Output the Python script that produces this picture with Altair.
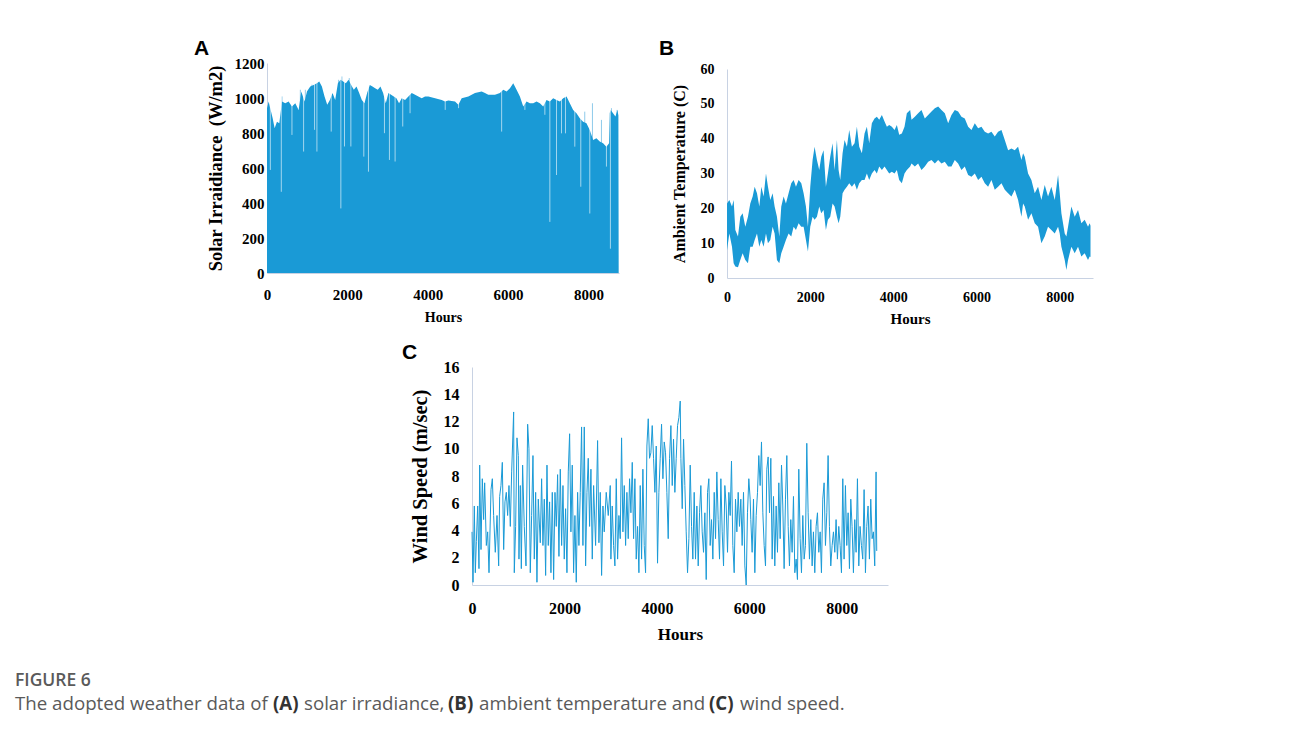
import altair as alt
import pandas as pd

# ---------------- data ----------------
hour_ticks = [0, 2000, 4000, 6000, 8000]
solar_ticks = [0, 200, 400, 600, 800, 1000, 1200]
temp_ticks = [0, 10, 20, 30, 40, 50, 60]
wind_ticks = [0, 2, 4, 6, 8, 10, 12, 14, 16]

# (A) solar irradiance: envelope of the daily peaks
solar_env_hours = [0, 41, 91, 141, 190, 248, 306, 373, 455, 538, 621, 704, 787, 853, 936, 994,
                   1076, 1159, 1242, 1300, 1366, 1432, 1499, 1565, 1631, 1697, 1764, 1830, 1896,
                   1962, 2029, 2095, 2161, 2227, 2294, 2360, 2426, 2492, 2559, 2625, 2691, 2757,
                   2823, 2890, 2956, 3022, 3088, 3155, 3221, 3287, 3353, 3436, 3519, 3602, 3685,
                   3767, 3850, 3933, 4017, 4183, 4348, 4431, 4514, 4679, 4762, 4845, 5011, 5176,
                   5342, 5425, 5507, 5673, 5797, 5880, 5963, 6046, 6128, 6211, 6294, 6377, 6460,
                   6543, 6625, 6708, 6791, 6874, 6956, 7039, 7122, 7205, 7288, 7371, 7454, 7536,
                   7619, 7702, 7785, 7867, 7950, 8033, 8116, 8198, 8281, 8364, 8447, 8513, 8530,
                   8554, 8612, 8671, 8720, 8745, 8752]
solar_env_values = [942, 980, 932, 884, 827, 865, 856, 980, 970, 980, 951, 970, 932, 1037, 980, 1037,
                    1066, 1075, 1085, 1094, 1066, 1009, 961, 989, 1028, 989, 1085, 1104, 1094,
                    1085, 1104, 1075, 1047, 1066, 1028, 989, 970, 1028, 1075, 1066, 1056, 1047,
                    1066, 1028, 970, 1028, 1018, 1009, 999, 970, 999, 989, 1009, 1028, 1018,
                    1009, 999, 1009, 1009, 999, 989, 980, 986, 980, 961, 999, 1009, 1028,
                    1037, 1028, 1018, 1018, 1028, 1047, 1037, 1056, 1085, 1047, 1009, 951, 980,
                    970, 970, 980, 970, 951, 989, 980, 999, 989, 980, 999, 1009, 970,
                    932, 913, 884, 865, 856, 817, 760, 770, 751, 741, 722, 741, 915,
                    932, 913, 894, 932, 900, 0]
# days with a much lower peak (light slivers cutting into the fill)
solar_dip_hours = [83, 356, 621, 911, 1184, 1242, 1598, 1838, 1929, 2087, 2409, 2525, 2923, 3047,
                   3188, 3378, 3560, 4435, 4767, 5839, 6418, 6915, 7039, 7205, 7329, 7428, 7660,
                   7809, 8033, 8447, 8546]
solar_dip_values = [589, 464, 789, 694, 818, 694, 808, 369, 723, 723, 665, 579, 799, 646,
                    637, 837, 913, 932, 942, 808, 932, 904, 292, 560, 798, 798, 722,
                    493, 340, 608, 139]
# single days peaking above the envelope (light slivers above the fill)
solar_peak_hours = [373, 830, 954, 1118, 1781, 1864, 2047, 7908, 8099, 8323, 8571, 8712]
solar_peak_values = [1009, 1047, 1047, 1076, 1104, 1123, 1114, 922, 970, 875, 942, 932]

# (B) ambient temperature: daily max / min band
temp_hours = [0, 56, 120, 160, 200, 264, 320, 376, 440, 504, 560, 617, 665, 721, 777, 825, 881,
              937, 985, 1041, 1097, 1145, 1201, 1257, 1305, 1361, 1417, 1481, 1545, 1602, 1658,
              1722, 1786, 1842, 1898, 1946, 2002, 2058, 2106, 2162, 2218, 2266, 2322, 2378, 2426,
              2482, 2538, 2587, 2643, 2683, 2723, 2779, 2827, 2883, 2939, 3003, 3067, 3123, 3179,
              3243, 3307, 3363, 3419, 3483, 3547, 3603, 3660, 3724, 3788, 3844, 3900, 3964, 4028,
              4084, 4140, 4204, 4268, 4324, 4404, 4436, 4516, 4596, 4676, 4756, 4837, 4917, 4997,
              5077, 5157, 5237, 5317, 5397, 5477, 5557, 5637, 5717, 5798, 5878, 5958, 6038, 6118,
              6198, 6278, 6358, 6438, 6518, 6599, 6679, 6759, 6839, 6919, 6999, 7079, 7119, 7159,
              7239, 7319, 7399, 7479, 7559, 7639, 7719, 7799, 7880, 7960, 8000, 8040, 8120, 8160,
              8200, 8280, 8360, 8440, 8520, 8600, 8680, 8720, 8740]
temp_max = [21.4, 22.4, 20.5, 22.4, 13.8, 11.9, 17.6, 18.6, 14.7, 17.6, 21.4, 23.4, 26.2, 24.3,
            20.5, 26.2, 23.4, 30.0, 26.2, 22.4, 24.3, 20.5, 17.6, 11.9, 20.5, 23.4, 21.4, 24.3,
            27.2, 28.1, 26.2, 28.1, 27.2, 24.3, 20.5, 14.7, 26.2, 33.9, 37.7, 33.9, 31.0, 34.8,
            36.7, 26.2, 30.0, 34.8, 38.7, 31.0, 39.6, 31.0, 28.1, 35.8, 39.6, 37.7, 42.5, 37.7,
            38.7, 43.4, 37.7, 35.8, 41.5, 43.4, 38.7, 44.4, 45.8, 46.3, 45.4, 46.8, 44.9, 43.4,
            43.9, 43.4, 42.5, 43.9, 41.1, 41.5, 43.4, 47.3, 48.2, 45.4, 46.3, 47.3, 48.2, 45.8,
            46.8, 47.8, 48.7, 49.2, 48.2, 47.3, 44.4, 46.8, 48.2, 47.8, 46.3, 45.8, 43.4, 42.5,
            44.4, 43.0, 43.4, 42.0, 41.5, 42.0, 40.6, 42.0, 42.5, 39.6, 36.7, 37.2, 36.7, 37.7,
            33.9, 35.8, 34.8, 30.0, 28.1, 24.3, 26.2, 22.4, 26.7, 23.4, 26.2, 22.4, 29.6, 24.3,
            18.6, 12.8, 11.9, 14.7, 20.5, 17.6, 19.5, 15.7, 16.7, 14.7, 15.7, 15.0]
temp_min = [8.0, 12.8, 9.0, 4.2, 3.3, 3.1, 5.2, 7.1, 5.2, 4.2, 9.0, 9.0, 10.9, 12.8, 9.0, 10.9,
            9.0, 12.8, 10.0, 10.9, 14.7, 12.8, 5.2, 4.2, 7.1, 9.0, 10.9, 12.8, 11.9, 14.7, 13.8,
            15.7, 14.7, 14.7, 10.9, 7.6, 14.7, 17.6, 16.7, 17.6, 20.5, 18.6, 19.5, 13.8, 16.7,
            17.6, 21.4, 20.5, 17.6, 15.7, 17.6, 24.3, 25.3, 26.2, 27.2, 26.2, 27.2, 25.3, 27.2,
            28.1, 28.1, 30.0, 28.1, 30.0, 31.0, 30.0, 32.0, 31.0, 32.0, 31.0, 30.0, 30.5, 30.0,
            31.0, 28.1, 27.2, 30.0, 31.0, 32.0, 32.9, 32.0, 32.9, 31.0, 32.0, 33.4, 33.9, 32.9,
            33.9, 32.9, 33.4, 32.0, 32.0, 33.9, 32.9, 31.0, 32.0, 29.6, 29.1, 30.0, 28.1, 29.1,
            27.2, 26.2, 28.1, 25.3, 26.2, 27.2, 25.3, 24.3, 23.4, 25.3, 22.4, 17.6, 21.4, 20.5,
            16.7, 18.6, 15.7, 14.7, 10.0, 11.9, 14.7, 13.8, 12.8, 14.7, 12.8, 9.0, 5.2, 2.3,
            5.2, 9.0, 7.1, 9.0, 6.2, 7.1, 5.2, 6.2, 6.0]

# (C) wind speed
wind_hours = [0, 22, 50, 72, 94, 123, 151, 166, 195, 223, 252, 274, 310, 339, 368, 411, 440, 468,
              504, 541, 577, 598, 627, 656, 685, 713, 742, 771, 800, 829, 858, 901, 915, 944, 973,
              1002, 1016, 1045, 1067, 1095, 1131, 1168, 1204, 1232, 1261, 1290, 1319, 1348, 1377,
              1405, 1434, 1477, 1506, 1535, 1564, 1593, 1622, 1650, 1679, 1708, 1737, 1766, 1795,
              1823, 1852, 1881, 1910, 1939, 1968, 1996, 2025, 2054, 2083, 2112, 2140, 2169, 2198,
              2227, 2256, 2285, 2313, 2342, 2371, 2400, 2429, 2458, 2487, 2515, 2544, 2573, 2602,
              2631, 2674, 2717, 2746, 2775, 2804, 2833, 2861, 2904, 2948, 2991,
              3005, 3034, 3063, 3092, 3121, 3150, 3178, 3207, 3236, 3265, 3294, 3323, 3351, 3380,
              3409, 3438, 3467, 3496, 3524, 3553, 3582, 3611, 3640, 3669, 3697, 3726, 3755, 3784,
              3813, 3841, 3870, 3899, 3928, 3957, 3986, 4014, 4043, 4072, 4101, 4130, 4159, 4187,
              4216, 4245, 4274, 4303, 4332, 4360, 4389, 4418, 4447, 4476, 4505, 4519, 4548, 4577,
              4605, 4634, 4663, 4692, 4721, 4750, 4778, 4807, 4836, 4865, 4894, 4923, 4951, 4980,
              5009, 5038, 5067, 5096, 5124, 5153, 5182, 5211, 5240, 5269, 5297, 5326, 5355, 5384,
              5413, 5442, 5470, 5499, 5528, 5557, 5586, 5614, 5643, 5672, 5701, 5730, 5759, 5787,
              5816, 5845, 5874, 5903, 5932, 5960, 5989, 6018,
              6032, 6061, 6090, 6119, 6148, 6177, 6205, 6234, 6263, 6292, 6321, 6350, 6378, 6407,
              6436, 6465, 6494, 6523, 6551, 6580, 6609, 6638, 6667, 6696, 6724, 6753, 6782, 6811,
              6840, 6868, 6897, 6926, 6955, 6984, 7013, 7041, 7070, 7099, 7128, 7157, 7186, 7214,
              7243, 7272, 7301, 7330, 7359, 7387, 7416, 7445, 7474, 7503, 7532, 7560, 7589, 7618,
              7647, 7676, 7704, 7733, 7762, 7791, 7820, 7849, 7877, 7906, 7935, 7964, 7993, 8022,
              8050, 8079, 8108, 8137, 8166, 8195, 8223, 8252, 8281, 8310, 8339, 8368, 8396, 8425,
              8454, 8483, 8512, 8540, 8569, 8598, 8627, 8656, 8684, 8713, 8742, 8756]
wind_values = [3.9, 0.2, 5.8, 0.9, 3.2, 5.8, 1.2, 8.8, 2.6, 7.8, 4.8, 7.5, 2.9, 3.9, 0.9, 7.0, 7.8,
               5.1, 2.4, 5.1, 1.4, 6.5, 7.3, 9.0, 2.6, 6.1, 6.8, 5.1, 7.3, 4.3, 8.3, 12.7, 0.9, 4.3,
               10.8, 9.5, 1.9, 7.3, 1.2, 8.8, 4.3, 1.4, 11.8, 10.0, 0.9, 5.1, 9.5, 1.9, 6.8, 0.2,
               6.3, 3.1, 7.8, 2.9, 6.3, 0.7, 8.8, 2.9, 6.1, 0.9, 6.8, 0.4, 6.8, 4.3, 8.1, 2.1, 8.5,
               2.9, 7.3, 1.9, 5.6, 0.9, 8.3, 11.1, 3.9, 8.8, 0.9, 5.1, 0.2, 6.8, 2.9, 6.8, 11.6,
               2.9, 11.6, 1.4, 6.8, 9.3, 4.3, 8.5, 1.9, 7.3, 2.9, 10.6, 3.1, 6.8, 0.7, 5.8, 3.9,
               6.8, 5.1, 7.3,
               1.9, 5.8, 2.9, 1.4, 7.8, 1.9, 5.1, 3.4, 10.8, 3.9, 7.3, 2.9, 6.8, 3.4, 7.8, 5.3,
               9.0, 3.4, 7.8, 1.9, 4.3, 0.9, 7.3, 1.9, 8.5, 2.9, 0.9, 10.2, 12.2, 9.3, 9.7, 11.7,
               9.3, 6.8, 10.2, 1.6, 6.8, 9.3, 11.8, 7.8, 10.5, 9.7, 6.8, 3.4, 9.3, 11.7, 7.3, 10.7,
               6.8, 9.3, 11.7, 12.3, 13.5, 9.3, 5.6, 10.7, 7.3, 3.9, 0.9, 3.4, 8.8, 4.3, 1.9, 6.8,
               1.9, 5.8, 1.4, 5.3, 7.3, 3.9, 2.4, 5.3, 0.4, 6.8, 7.8, 2.9, 4.8, 1.9, 6.8, 3.4, 8.3,
               4.8, 1.9, 7.8, 3.9, 1.4, 7.3, 5.8, 2.4, 6.8, 5.1, 9.1, 2.9, 0.9, 6.3, 3.9, 6.8, 4.3,
               6.3, 2.9, 6.8, 1.4, 0.0, 5.3, 7.8, 6.3,
               4.8, 2.4, 6.3, 0.9, 5.1, 6.8, 9.5, 7.3, 10.5, 5.3, 2.9, 1.4, 8.5, 9.4, 5.3, 9.3,
               1.9, 6.5, 1.4, 5.8, 2.4, 7.5, 3.4, 8.8, 5.8, 1.2, 6.3, 9.5, 4.3, 1.4, 4.8, 2.4, 6.5,
               0.9, 1.9, 0.4, 8.5, 3.4, 0.9, 5.1, 1.9, 2.9, 10.4, 5.3, 1.9, 4.8, 1.4, 3.9, 0.9,
               4.3, 5.3, 2.4, 3.9, 0.9, 6.3, 7.5, 2.9, 5.3, 9.5, 4.3, 1.4, 2.9, 3.9, 2.4, 4.8, 1.9,
               4.3, 2.9, 0.9, 7.8, 1.9, 7.3, 2.9, 5.3, 1.2, 6.3, 4.3, 0.9, 4.8, 2.4, 7.8, 1.4, 4.3,
               2.9, 1.9, 7.0, 0.9, 4.3, 5.8, 1.9, 6.3, 3.4, 3.9, 1.4, 8.3, 2.5]

caption_title = "FIGURE 6"
caption_parts = ["The adopted weather data of", "(A)", "solar irradiance,", "(B)",
                 "ambient temperature and", "(C)", "wind speed."]
caption_bold = [False, True, False, True, False, True, False]

# ---------------- styling ----------------
BLUE = "#1a9ad6"
LIGHT = "#8ecaea"
AXIS_COLOR = "#c8d2e3"
SERIF = "Liberation Serif"
SANS = "Liberation Sans"
CAPTION_FONT = "Open Sans"


def x_axis(label_size, title_size, label_pad, title_pad):
    return alt.Axis(values=hour_ticks, format="d", title="Hours",
                    labelFont=SERIF, labelFontSize=label_size, labelFontWeight="bold",
                    labelColor="black", titleFont=SERIF, titleFontSize=title_size,
                    titleFontWeight="bold", titleColor="black", ticks=False, tickSize=0,
                    grid=False, domainColor=AXIS_COLOR, domainWidth=1,
                    labelPadding=label_pad, titlePadding=title_pad, labelFlush=False,
                    labelOverlap=False)


def y_axis(values, title, label_size, title_size, label_pad, title_pad):
    return alt.Axis(values=values, format="d", title=title,
                    labelFont=SERIF, labelFontSize=label_size, labelFontWeight="bold",
                    labelColor="black", titleFont=SERIF, titleFontSize=title_size,
                    titleFontWeight="bold", titleColor="black", ticks=False, tickSize=0,
                    grid=False, domainColor=AXIS_COLOR, domainWidth=1,
                    labelPadding=label_pad, titlePadding=title_pad, labelOverlap=False)


def panel_title(letter, dx, offset, dy):
    return alt.TitleParams(letter, anchor="start", frame="group", dx=dx, dy=dy, offset=offset,
                           font=SANS, fontSize=21, fontWeight="bold", color="black")


def spacer(w):
    return alt.Chart(pd.DataFrame({"v": [0]})).mark_rect(opacity=0).encode(
        x=alt.value(0), x2=alt.value(w), y=alt.value(0), y2=alt.value(1)
    ).properties(width=w, height=1)


# ---------------- panel A ----------------
env_df = pd.DataFrame({"hour": solar_env_hours, "value": solar_env_values})
dip_df = pd.DataFrame({"hour": solar_dip_hours, "value": solar_dip_values})
peak_df = pd.DataFrame({"hour": solar_peak_hours, "value": solar_peak_values})

xA = alt.X("hour:Q", scale=alt.Scale(domain=[0, 8760], nice=False, zero=False),
           axis=x_axis(15, 14, 14, 8))
yA = alt.Y("value:Q", scale=alt.Scale(domain=[0, 1200], nice=False),
           axis=y_axis(solar_ticks, "Solar Irraidiance\u00a0 (W/m2)", 15, 18.5, 3, 9))

peaksA = alt.Chart(peak_df).mark_rule(color=LIGHT, strokeWidth=1).encode(
    x=xA, y=yA, y2=alt.datum(0))
areaA = alt.Chart(env_df).mark_area(color=BLUE, interpolate="linear").encode(x=xA, y=yA)
dipsA = alt.Chart(dip_df).mark_rule(color="white", strokeWidth=1, opacity=0.6).encode(
    x=xA, y=yA, y2=alt.datum(1160))

chartA = alt.layer(peaksA, areaA, dipsA).properties(
    width=352, height=210, title=panel_title("A", -73, 6, 9))

# ---------------- panel B ----------------
temp_df = pd.DataFrame({"hour": temp_hours, "tmax": temp_max, "tmin": temp_min})
chartB = alt.Chart(temp_df).mark_area(color=BLUE, interpolate="linear").encode(
    x=alt.X("hour:Q", scale=alt.Scale(domain=[0, 8800], nice=False, zero=False),
            axis=x_axis(14, 15, 12, 7)),
    y=alt.Y("tmax:Q", scale=alt.Scale(domain=[0, 60], nice=False, range=[215, 6]),
            axis=y_axis(temp_ticks, "Ambient Temperature (C)", 14, 16, 13, 13)),
    y2="tmin:Q",
).properties(width=366, height=215, title=panel_title("B", -68, 8, 5))

# ---------------- panel C ----------------
wind_df = pd.DataFrame({"hour": wind_hours, "speed": wind_values})
chartC = alt.Chart(wind_df).mark_line(color=BLUE, strokeWidth=1).encode(
    x=alt.X("hour:Q", scale=alt.Scale(domain=[0, 9000], nice=False, zero=False),
            axis=x_axis(16, 17, 15, 10)),
    y=alt.Y("speed:Q", scale=alt.Scale(domain=[0, 16], nice=False),
            axis=y_axis(wind_ticks, "Wind Speed (m/sec)", 16, 20.5, 13, 13)),
).properties(width=416, height=218, title=panel_title("C", -70, 5, 9))

# ---------------- caption ----------------
caption_x = [15, 273, 304, 448, 479, 709, 740]
cap_layers = [
    alt.Chart(pd.DataFrame({"v": [0]})).mark_rect(opacity=0).encode(
        x=alt.value(0), x2=alt.value(1), y=alt.value(0), y2=alt.value(1)),
    alt.Chart(pd.DataFrame({"t": [caption_title]})).mark_text(
        align="left", baseline="alphabetic", font=CAPTION_FONT, fontSize=17.5,
        fontWeight=600, color="#5a5a5a").encode(
        x=alt.value(15), y=alt.value(28), text="t:N"),
]
for part, bold, px in zip(caption_parts, caption_bold, caption_x):
    cap_layers.append(
        alt.Chart(pd.DataFrame({"t": [part]})).mark_text(
            align="left", baseline="alphabetic", font=CAPTION_FONT, fontSize=18.7,
            fontWeight="bold" if bold else "normal",
            color="#333333" if bold else "#5a5a5a").encode(
            x=alt.value(px), y=alt.value(52), text="t:N"))
caption = alt.layer(*cap_layers).properties(width=1270, height=62)

# ---------------- layout ----------------
row1 = alt.hconcat(spacer(194), alt.hconcat(chartA, chartB, spacing=40), spacing=0)
row2 = alt.hconcat(spacer(402), chartC, spacing=0)
chart = alt.vconcat(row1, row2, caption, spacing=16).properties(
    padding={"left": 0, "top": 38, "right": 0, "bottom": 0},
    background="white",
).configure_view(stroke=None)

chart.save("out.html", embed_options={"renderer": "svg", "actions": False})
